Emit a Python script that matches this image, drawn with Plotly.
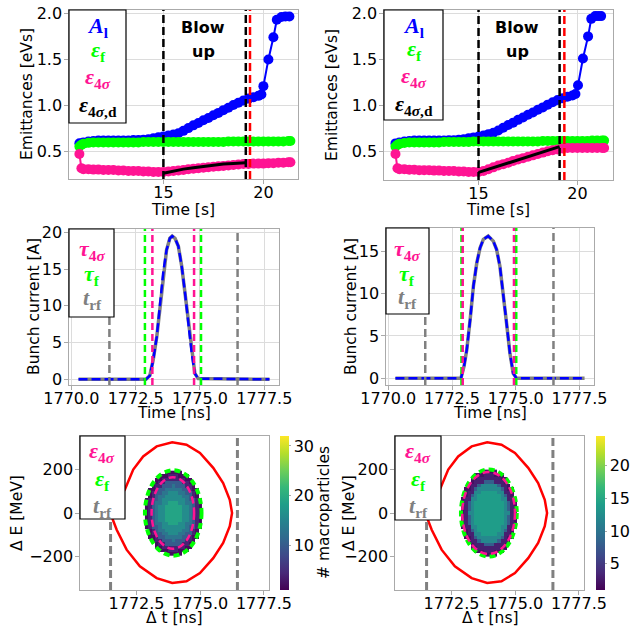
import plotly.graph_objects as go

# ================= DATA =================
# ---- top row: emittances vs time [s] ----
t_eps = [10.8, 10.9, 11.0, 11.25, 11.5, 11.75, 12.0, 12.25, 12.5, 12.75,
         13.0, 13.25, 13.5, 13.75, 14.0, 14.25, 14.5, 14.75, 15.0, 15.25,
         15.5, 15.75, 16.0, 16.25, 16.5, 16.75, 17.0, 17.25, 17.5, 17.75,
         18.0, 18.25, 18.5, 18.75, 19.0, 19.25, 19.5, 19.75, 20.0, 20.25,
         20.5, 20.75, 21.0, 21.25, 21.35]

t_blue_left = [10.8, 11.0, 11.25, 11.5, 11.75, 12.0, 12.25, 12.5, 12.75, 13.0,
               13.25, 13.5, 13.75, 14.0, 14.25, 14.5, 14.75, 15.0, 15.25, 15.5,
               15.75, 16.0, 16.25, 16.5, 16.75, 17.0, 17.25, 17.5, 17.75, 18.0,
               18.25, 18.5, 18.75, 19.0, 19.25, 19.5, 19.75, 19.9, 20.0, 20.25,
               20.5, 20.67, 20.9, 21.1, 21.3]
A_l_left = [0.59, 0.60, 0.61, 0.615, 0.62, 0.62, 0.62, 0.62, 0.62, 0.62,
            0.62, 0.625, 0.625, 0.63, 0.635, 0.645, 0.655, 0.665, 0.675, 0.685,
            0.70, 0.725, 0.755, 0.785, 0.81, 0.84, 0.865, 0.895, 0.92, 0.95,
            0.975, 1.005, 1.03, 1.055, 1.075, 1.09, 1.105, 1.12, 1.21, 1.50,
            1.74, 1.93, 1.96, 1.965, 1.965]
t_blue_right = [10.8, 11.0, 11.25, 11.5, 11.75, 12.0, 12.25, 12.5, 12.75, 13.0,
                13.25, 13.5, 13.75, 14.0, 14.25, 14.5, 14.75, 15.0, 15.25, 15.5,
                15.75, 16.0, 16.25, 16.5, 16.75, 17.0, 17.25, 17.5, 17.75, 18.0,
                18.25, 18.5, 18.75, 19.0, 19.25, 19.5, 19.75, 19.9, 20.03, 20.28,
                20.54, 20.7, 20.9, 21.05, 21.2]
A_l_right = [0.59, 0.60, 0.61, 0.615, 0.62, 0.62, 0.62, 0.62, 0.62, 0.62,
             0.62, 0.625, 0.625, 0.63, 0.635, 0.645, 0.655, 0.665, 0.675, 0.69,
             0.705, 0.73, 0.76, 0.79, 0.815, 0.845, 0.87, 0.90, 0.925, 0.955,
             0.98, 1.01, 1.035, 1.06, 1.08, 1.095, 1.11, 1.125, 1.22, 1.51,
             1.75, 1.94, 1.97, 1.97, 1.97]

eps_f_left = [0.555, 0.575, 0.585, 0.595, 0.60, 0.60, 0.60, 0.60, 0.60, 0.60,
              0.60, 0.60, 0.60, 0.60, 0.605, 0.605, 0.605, 0.605, 0.605, 0.605,
              0.605, 0.605, 0.605, 0.605, 0.605, 0.605, 0.605, 0.605, 0.605, 0.605,
              0.605, 0.61, 0.61, 0.61, 0.61, 0.61, 0.61, 0.61, 0.61, 0.61,
              0.61, 0.61, 0.61, 0.615, 0.615]
eps_f_right = [0.555, 0.575, 0.585, 0.595, 0.60, 0.60, 0.60, 0.60, 0.60, 0.60,
               0.60, 0.605, 0.605, 0.605, 0.605, 0.605, 0.605, 0.61, 0.61, 0.61,
               0.61, 0.61, 0.61, 0.61, 0.61, 0.61, 0.61, 0.61, 0.61, 0.61,
               0.61, 0.615, 0.615, 0.615, 0.615, 0.615, 0.615, 0.615, 0.615, 0.615,
               0.615, 0.62, 0.62, 0.62, 0.62]

eps_4s_left = [0.475, 0.32, 0.31, 0.31, 0.305, 0.305, 0.30, 0.30, 0.30, 0.295,
               0.295, 0.29, 0.29, 0.29, 0.285, 0.285, 0.28, 0.28, 0.28, 0.285,
               0.29, 0.295, 0.30, 0.31, 0.315, 0.32, 0.325, 0.33, 0.335, 0.34,
               0.345, 0.35, 0.355, 0.36, 0.365, 0.365, 0.37, 0.37, 0.37, 0.375,
               0.375, 0.38, 0.38, 0.385, 0.385]
eps_4s_right = [0.475, 0.32, 0.31, 0.31, 0.305, 0.305, 0.30, 0.30, 0.30, 0.295,
                0.295, 0.29, 0.29, 0.29, 0.285, 0.285, 0.28, 0.28, 0.28, 0.29,
                0.31, 0.33, 0.35, 0.365, 0.38, 0.40, 0.415, 0.43, 0.445, 0.46,
                0.475, 0.49, 0.505, 0.515, 0.525, 0.535, 0.54, 0.54, 0.54, 0.54,
                0.54, 0.54, 0.54, 0.54, 0.54]

t_eps_d_left = [15.0, 15.5, 16.0, 16.5, 17.0, 17.5, 18.0, 18.5, 19.1]
eps_4s_d_left = [0.265, 0.29, 0.31, 0.325, 0.34, 0.355, 0.365, 0.372, 0.378]
t_eps_d_right = [15.0, 19.1]
eps_4s_d_right = [0.275, 0.555]

blowup_start = [15.0, 15.0]      # left, right
blowup_end = [19.12, 19.1]
t_red = [19.33, 19.34]

# ---- middle row: bunch profiles ----
prof_t_left = [1770.28, 1772.9, 1773.05, 1773.18, 1773.32, 1773.45, 1773.57, 1773.7,
               1773.83, 1773.92, 1774.03, 1774.16, 1774.29, 1774.42, 1774.55, 1774.68,
               1774.8, 1774.93, 1777.70]
prof_I_left = [0.0, 0.0, 0.5, 2.6, 5.8, 9.9, 14.5, 17.6,
               19.2, 19.5, 19.2, 18.1, 15.4, 11.7, 7.6, 3.5,
               0.8, 0.1, 0.0]
prof_t_right = [1770.28, 1772.85, 1772.97, 1773.08, 1773.21, 1773.34, 1773.47, 1773.6,
                1773.73, 1773.92, 1774.12, 1774.25, 1774.38, 1774.51, 1774.64, 1774.77,
                1774.9, 1775.03, 1777.70]
prof_I_right = [0.0, 0.0, 1.4, 3.4, 6.9, 10.9, 13.6, 15.4,
                16.4, 16.8, 16.2, 15.2, 13.2, 10.1, 6.5, 3.0,
                0.6, 0.0, 0.0]

t_rf_mid = [[1771.48, 1776.46], [1771.45, 1776.48]]
tau_f = [[1772.86, 1775.04], [1772.87, 1775.02]]
tau_4s = [[1773.15, 1774.77], [1772.92, 1774.93]]

# ---- bottom row: longitudinal phase space ----
t_rf_bot = [[1771.48, 1776.46], [1771.52, 1776.48]]
ell_f = [dict(t=(1772.83, 1775.05), dE=(-197, 197)),
         dict(t=(1772.87, 1775.06), dE=(-201, 201))]
ell_4s = [dict(t=(1773.09, 1774.76), dE=(-165, 165)),
          dict(t=(1772.92, 1774.99), dE=(-189, 189))]

sep_up_t = [1771.50, 1771.75, 1772.04, 1772.37, 1772.76, 1773.29, 1773.90,
            1774.46, 1774.99, 1775.51, 1775.90, 1776.16, 1776.25]
sep_up_dE = [0, 60, 108, 200, 261, 307, 326, 315, 277, 208, 138, 61, 0]
sep_lo_t = [1771.50, 1771.52, 1771.72, 1772.11, 1772.63, 1773.29, 1773.90,
            1774.46, 1774.99, 1775.51, 1775.90, 1776.16, 1776.25]
sep_lo_dE = [0, -16, -77, -169, -246, -300, -323, -315, -277, -208, -138, -61, 0]

# 2D histogram of macroparticles (17 time bins x 25 energy bins), read as levels
ps_rows_left = [
    "......11111......",
    "....111222111....",
    "...11222222211...",
    "...12244444221...",
    "..1224445444221..",
    ".112445555544211.",
    ".124455666554421.",
    ".124556666655421.",
    "12445666666654421",
    "12455667776655421",
    "12456677777665421",
    "12456677777665421",
    "12456677777665421",
    "12456677777665421",
    "12456677777665421",
    "12455667776655421",
    "12445666666654421",
    ".124556666655421.",
    ".124455666554421.",
    ".112445555544211.",
    "..1224445444221..",
    "...12244444221...",
    "...11222222211...",
    "....111222111....",
    "......11111......",
]
ps_levels_left = {"7": 19, "6": 16, "5": 13, "4": 10, "2": 4, "1": 2}
ps_rows_right = [
    "......11111......",
    "....111222111....",
    "...11222222211...",
    "...12224442221...",
    "..1224555554221..",
    ".112455555554211.",
    ".122556666655221.",
    ".124566666665421.",
    "12255666666655221",
    "12456666666665421",
    "12456666666665421",
    "12456666666665421",
    "12556666666665521",
    "12456666666665421",
    "12456666666665421",
    "12456666666665421",
    "12255666666655221",
    ".124566666665421.",
    ".122556666655221.",
    ".112455555554211.",
    "..1224555554221..",
    "...12224442221...",
    "...11222222211...",
    "....111222111....",
    "......11111......",
]
ps_levels_right = {"6": 14, "5": 12, "4": 8, "2": 3, "1": 2}
ps_center_t = [1773.94, 1773.965]
ps_step_t = [0.1306, 0.1288]
ps_step_dE = [15.6, 16.0]
cbar_range = [(1, 32), (1, 24.5)]
cbar_ticks = [[10, 20, 30], [5, 10, 15, 20]]

# ================= STYLE / LAYOUT =================
W, H = 630, 628
BLUE, GREEN, PINK, GRAY, RED = "#0000ff", "#00ff00", "#ff1493", "#808080", "#ff0000"
SPINE = "#aaaaaa"
TICKFONT = dict(family="DejaVu Sans", size=16, color="black")


def X(p):
    return p / W


def Y(p):
    return 1 - p / H


panels = {
    1: ((69, 298), (10, 179)),
    2: ((384, 613), (10, 180)),
    3: ((69, 279), (229, 385)),
    4: ((386, 594), (228, 385)),
    5: ((80, 269), (436, 590)),
    6: ((395, 584), (436, 590)),
}
xranges = {1: [10.28, 21.73], 2: [10.22, 21.8], 3: [1769.91, 1778.07], 4: [1769.91, 1778.07],
           5: [1770.28, 1777.70], 6: [1770.28, 1777.70]}
yranges = {1: [0.203, 2.036], 2: [0.193, 2.036], 3: [-0.77, 20.46], 4: [-0.79, 17.75],
           5: [-355, 355], 6: [-355, 355]}

fig = go.Figure()
layout = {}
for i, ((x0, x1), (y0, y1)) in panels.items():
    sfx = "" if i == 1 else str(i)
    grid = i <= 4
    common = dict(showline=True, mirror=True, linecolor=SPINE, linewidth=1.2,
                  ticks="outside", ticklen=3.5, tickcolor=SPINE, tickfont=TICKFONT,
                  zeroline=False, showgrid=grid, gridcolor="#dcdcdc", gridwidth=1,
                  automargin=False)
    xa = dict(domain=[X(x0), X(x1)], anchor="y" + sfx, range=xranges[i],
              ticklabelstandoff=-5, **common)
    ya = dict(domain=[Y(y1), Y(y0)], anchor="x" + sfx, range=yranges[i],
              ticklabelstandoff=-1, **common)
    if i <= 2:
        xa.update(tickvals=[15, 20])
        ya.update(tickvals=[0.5, 1.0, 1.5, 2.0], tickformat=".1f")
    else:
        xa.update(tickvals=[1770.0, 1772.5, 1775.0, 1777.5], tickformat=".1f")
        if i <= 4:
            ya.update(dtick=5)
        else:
            ya.update(tickvals=[-200, 0, 200])
    layout["xaxis" + sfx] = xa
    layout["yaxis" + sfx] = ya

# ---- top row traces ----
top = [
    (1, t_blue_left, A_l_left, t_eps, eps_f_left, eps_4s_left, t_eps_d_left, eps_4s_d_left),
    (2, t_blue_right, A_l_right, t_eps, eps_f_right, eps_4s_right, t_eps_d_right, eps_4s_d_right),
]
for i, tb, ab, te, ef, e4, td, ed in top:
    sfx = "" if i == 1 else str(i)
    ax = dict(xaxis="x" + sfx, yaxis="y" + sfx, showlegend=False, hoverinfo="skip")
    fig.add_trace(go.Scatter(x=tb, y=ab, mode="lines+markers", line=dict(color=BLUE, width=2),
                             marker=dict(color=BLUE, size=10), **ax))
    fig.add_trace(go.Scatter(x=te, y=ef, mode="lines+markers", line=dict(color=GREEN, width=2),
                             marker=dict(color=GREEN, size=10), **ax))
    fig.add_trace(go.Scatter(x=te, y=e4, mode="lines+markers", line=dict(color=PINK, width=2),
                             marker=dict(color=PINK, size=10), **ax))
    fig.add_trace(go.Scatter(x=td, y=ed, mode="lines", line=dict(color="black", width=3), **ax))

# ---- middle row traces ----
for k, (tp, ip) in enumerate([(prof_t_left, prof_I_left), (prof_t_right, prof_I_right)]):
    sfx = str(3 + k)
    ax = dict(xaxis="x" + sfx, yaxis="y" + sfx, showlegend=False, hoverinfo="skip")
    fig.add_trace(go.Scatter(x=tp, y=ip, mode="lines", line=dict(color=GRAY, width=3.5), **ax))
    fig.add_trace(go.Scatter(x=tp, y=ip, mode="lines",
                             line=dict(color=BLUE, width=2.5, dash="9px,4px"), **ax))

# ---- bottom row traces ----
ps_rows = [ps_rows_left, ps_rows_right]
ps_levels = [ps_levels_left, ps_levels_right]
cbar_x = [280, 596]
for k in range(2):
    sfx = str(5 + k)
    ax = dict(xaxis="x" + sfx, yaxis="y" + sfx, showlegend=False, hoverinfo="skip")
    rows = ps_rows[k][::-1]
    z = [[ps_levels[k].get(c) for c in r] for r in rows]
    nx = len(rows[0])
    ny = len(rows)
    fig.add_trace(go.Heatmap(
        z=z, x0=ps_center_t[k] - (nx // 2) * ps_step_t[k], dx=ps_step_t[k],
        y0=-(ny // 2) * ps_step_dE[k], dy=ps_step_dE[k],
        colorscale="Viridis", zmin=cbar_range[k][0], zmax=cbar_range[k][1],
        colorbar=dict(x=X(cbar_x[k]), xanchor="left", y=Y(590), yanchor="bottom",
                      len=154 / H, lenmode="fraction", thickness=9, thicknessmode="pixels",
                      xpad=0, ypad=0, outlinewidth=0, tickvals=cbar_ticks[k],
                      ticks="outside", ticklen=2, tickcolor=SPINE, tickfont=TICKFONT),
        **ax))
    fig.add_trace(go.Scatter(x=sep_up_t + sep_lo_t[::-1], y=sep_up_dE + sep_lo_dE[::-1],
                             mode="lines", line=dict(color=RED, width=2.5), **ax))

# ---- shapes: vertical marker lines, ellipses, legend boxes ----
shapes = []


def vline(xref, yref, x, color, width=2.5, dash="8px,4px"):
    shapes.append(dict(type="line", xref=xref, yref=yref + " domain", x0=x, x1=x, y0=0, y1=1,
                       line=dict(color=color, width=width, dash=dash), layer="above"))


for k in range(2):
    sfx = "" if k == 0 else "2"
    vline("x" + sfx, "y" + sfx, blowup_start[k], "black")
    vline("x" + sfx, "y" + sfx, blowup_end[k], "black")
    vline("x" + sfx, "y" + sfx, t_red[k], RED)
for k in range(2):
    sfx = str(3 + k)
    for t in t_rf_mid[k]:
        vline("x" + sfx, "y" + sfx, t, GRAY, 2.5, "8px,4px")
    for t in tau_f[k]:
        vline("x" + sfx, "y" + sfx, t, GREEN, 2.5, "7px,4px")
    for t in tau_4s[k]:
        vline("x" + sfx, "y" + sfx, t, PINK, 2.5, "7px,4px")
for k in range(2):
    sfx = str(5 + k)
    for t in t_rf_bot[k]:
        vline("x" + sfx, "y" + sfx, t, GRAY, 3, "8px,4px")
    ef, e4 = ell_f[k], ell_4s[k]
    shapes.append(dict(type="circle", xref="x" + sfx, yref="y" + sfx,
                       x0=ef["t"][0], x1=ef["t"][1], y0=ef["dE"][0], y1=ef["dE"][1],
                       line=dict(color=GREEN, width=4, dash="6px,4px"), layer="above"))
    shapes.append(dict(type="circle", xref="x" + sfx, yref="y" + sfx,
                       x0=e4["t"][0], x1=e4["t"][1], y0=e4["dE"][0], y1=e4["dE"][1],
                       line=dict(color=PINK, width=2.5, dash="7px,4px"), layer="above"))

annotations = []
legend_boxes = [
    ((69, 126, 10, 123), 98, [27, 51, 78, 106], "eps4"),
    ((384, 443, 10, 120), 414, [27, 50, 77, 105], "eps4"),
    ((69, 114, 229, 317), 92, [250, 275, 299], "tau"),
    ((386, 429, 228, 314), 407, [250, 275, 298], "tau"),
    ((80, 125, 436, 519), 102, [452, 480, 507], "ps"),
    ((395, 441, 436, 520), 418, [452, 480, 507], "ps"),
]
legend_entries = {
    "eps4": [("<b><i>A</i><sub>l</sub></b>", BLUE), ("<b><i>ε</i><sub>f</sub></b>", GREEN),
             ("<b><i>ε</i><sub>4<i>σ</i></sub></b>", PINK),
             ("<b><i>ε</i><sub>4<i>σ</i>,d</sub></b>", "black")],
    "tau": [("<b><i>τ</i><sub>4<i>σ</i></sub></b>", PINK), ("<b><i>τ</i><sub>f</sub></b>", GREEN),
            ("<b><i>t</i><sub>rf</sub></b>", GRAY)],
    "ps": [("<b><i>ε</i><sub>4<i>σ</i></sub></b>", PINK), ("<b><i>ε</i><sub>f</sub></b>", GREEN),
           ("<b><i>t</i><sub>rf</sub></b>", GRAY)],
}
for (bx0, bx1, by0, by1), cx, ys, key in legend_boxes:
    shapes.append(dict(type="rect", xref="paper", yref="paper", x0=X(bx0), x1=X(bx1),
                       y0=Y(by1), y1=Y(by0), fillcolor="white",
                       line=dict(color="black", width=1.2), layer="above"))
    for (txt, col), yy in zip(legend_entries[key], ys):
        annotations.append(dict(text=txt, x=X(cx), y=Y(yy), xref="paper", yref="paper",
                                showarrow=False, xanchor="center", yanchor="middle",
                                font=dict(family="Liberation Serif", size=22, color=col)))


def label(txt, x, y, angle=0, size=15.5, bold=False):
    annotations.append(dict(text=("<b>%s</b>" % txt) if bold else txt, x=X(x), y=Y(y),
                            xref="paper", yref="paper", showarrow=False, textangle=angle,
                            xanchor="center", yanchor="middle",
                            font=dict(family="DejaVu Sans", size=size, color="black")))


# Blow up text
label("Blow", 203, 28, size=16, bold=True)
label("up", 203, 52, size=16, bold=True)
label("Blow", 517, 28, size=16, bold=True)
label("up", 517, 52, size=16, bold=True)
# axis titles
label("Emittances [eVs]", 27, 94, -90)
label("Emittances [eVs]", 332, 95, -90)
label("Time [s]", 183, 210)
label("Time [s]", 498, 210)
label("Bunch current [A]", 34, 307, -90)
label("Bunch current [A]", 351, 307, -90)
label("Time [ns]", 174, 413)
label("Time [ns]", 490, 413)
label("Δ E [MeV]", 17, 513, -90)
label("Δ E [MeV]", 349, 513, -90)
label("Δ t [ns]", 174, 618)
label("Δ t [ns]", 490, 618)
# colorbar title (left colorbar; the right one lies beyond the canvas edge)
label("# macroparticles", 324, 512, -90)

fig.update_layout(**layout)
fig.update_layout(width=W, height=H, margin=dict(l=0, r=0, t=0, b=0, autoexpand=False),
                  paper_bgcolor="white", plot_bgcolor="white",
                  shapes=shapes, annotations=annotations, showlegend=False)
fig.write_html("out.html", config={"displayModeBar": False, "staticPlot": True},
               post_script="document.body.style.margin='0';document.body.style.overflow='hidden';")
